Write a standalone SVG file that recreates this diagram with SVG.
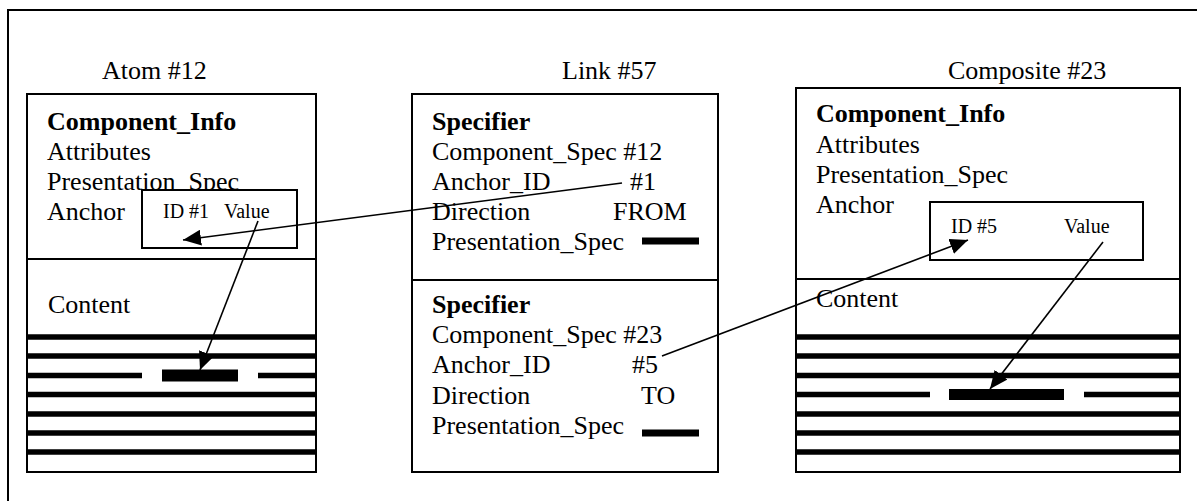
<svg xmlns="http://www.w3.org/2000/svg" width="1197" height="501" viewBox="0 0 1197 501">
  <style>
    .frame { fill: none; stroke: #000; stroke-width: 2; }
    .box { fill: #fff; stroke: #000; stroke-width: 2; }
    .div { stroke: #000; stroke-width: 2; }
    text { font-family: "Liberation Serif", Tinos, "Times New Roman", Times, "DejaVu Serif", serif; fill: #000; }
    .t { font-size: 26px; }
    .b { font-weight: bold; }
    .s { font-size: 20px; }
    .row { stroke: #000; stroke-width: 5.5; }
    .bar { fill: #000; }
    .conn { stroke: #000; stroke-width: 1.6; fill: none; }
  </style>
  <defs>
    <marker id="head" viewBox="0 0 18 16" refX="18" refY="8" markerWidth="18" markerHeight="16" markerUnits="userSpaceOnUse" orient="auto">
      <path d="M0,0 L18,8 L0,16 z" fill="#000"/>
    </marker>
  </defs>

  <rect width="1197" height="501" fill="#fff"/>
  <!-- outer frame (open to the right and bottom) -->
  <rect class="frame" x="8" y="10" width="1200" height="500"/>

  <!-- titles -->
  <g font-family="Liberation Serif, serif">
  <text class="t" x="102" y="79">Atom #12</text>
  <text class="t" x="562" y="79">Link #57</text>
  <text class="t" x="948" y="79">Composite #23</text>
  </g>

  <!-- Atom #12 -->
  <g id="atom12">
    <rect class="box" x="27" y="94" width="289" height="378"/>
    <line class="div" x1="27" y1="259" x2="316" y2="259"/>
    <text class="t b" x="47" y="130">Component_Info</text>
    <text class="t" x="47" y="160">Attributes</text>
    <text class="t" x="47" y="190">Presentation_Spec</text>
    <text class="t" x="47" y="220">Anchor</text>
    <rect class="box" x="142" y="190" width="155" height="58"/>
    <text class="s" x="163" y="218">ID #1</text>
    <text class="s" x="224" y="218">Value</text>
    <text class="t" x="48" y="313">Content</text>
    <g>
      <line class="row" x1="27" y1="337" x2="316" y2="337"/>
      <line class="row" x1="27" y1="356" x2="316" y2="356"/>
      <line class="row" x1="27" y1="375.5" x2="142" y2="375.5"/>
      <rect class="bar" x="162" y="369.5" width="76" height="12"/>
      <line class="row" x1="258" y1="375.5" x2="316" y2="375.5"/>
      <line class="row" x1="27" y1="394.5" x2="316" y2="394.5"/>
      <line class="row" x1="27" y1="414" x2="316" y2="414"/>
      <line class="row" x1="27" y1="433" x2="316" y2="433"/>
      <line class="row" x1="27" y1="452" x2="316" y2="452"/>
    </g>
  </g>

  <!-- Link #57 -->
  <g id="link57">
    <rect class="box" x="412" y="94" width="306" height="378"/>
    <line class="div" x1="412" y1="280" x2="718" y2="280"/>
    <text class="t b" x="432" y="130">Specifier</text>
    <text class="t" x="432" y="160">Component_Spec #12</text>
    <text class="t" x="432" y="190">Anchor_ID</text>
    <text class="t" x="630" y="190">#1</text>
    <text class="t" x="432" y="220">Direction</text>
    <text class="t" x="613" y="220">FROM</text>
    <text class="t" x="432" y="250">Presentation_Spec</text>
    <rect class="bar" x="642" y="237.5" width="57" height="7"/>
    <text class="t b" x="432" y="313">Specifier</text>
    <text class="t" x="432" y="343">Component_Spec #23</text>
    <text class="t" x="432" y="373">Anchor_ID</text>
    <text class="t" x="632" y="373">#5</text>
    <text class="t" x="432" y="404">Direction</text>
    <text class="t" x="641" y="404">TO</text>
    <text class="t" x="432" y="434">Presentation_Spec</text>
    <rect class="bar" x="642" y="429.5" width="57" height="7"/>
  </g>

  <!-- Composite #23 -->
  <g id="composite23">
    <rect class="box" x="796" y="88" width="384" height="384"/>
    <line class="div" x1="796" y1="279" x2="1180" y2="279"/>
    <text class="t b" x="816" y="122">Component_Info</text>
    <text class="t" x="816" y="153">Attributes</text>
    <text class="t" x="816" y="183">Presentation_Spec</text>
    <text class="t" x="816" y="213">Anchor</text>
    <rect class="box" x="930" y="202" width="213" height="58"/>
    <text class="s" x="951" y="233">ID #5</text>
    <text class="s" x="1064" y="233">Value</text>
    <text class="t" x="816" y="307">Content</text>
    <g>
      <line class="row" x1="796" y1="337" x2="1180" y2="337"/>
      <line class="row" x1="796" y1="356" x2="1180" y2="356"/>
      <line class="row" x1="796" y1="375.5" x2="1180" y2="375.5"/>
      <line class="row" x1="796" y1="394.5" x2="930" y2="394.5"/>
      <rect class="bar" x="949" y="389" width="115" height="11"/>
      <line class="row" x1="1084" y1="394.5" x2="1180" y2="394.5"/>
      <line class="row" x1="796" y1="414" x2="1180" y2="414"/>
      <line class="row" x1="796" y1="433" x2="1180" y2="433"/>
      <line class="row" x1="796" y1="452" x2="1180" y2="452"/>
    </g>
  </g>

  <!-- connectors -->
  <g id="connectors">
    <line class="conn" x1="622" y1="183" x2="183" y2="240" marker-end="url(#head)"/>
    <line class="conn" x1="258" y1="221" x2="200" y2="370" marker-end="url(#head)"/>
    <line class="conn" x1="662" y1="356" x2="968" y2="240" marker-end="url(#head)"/>
    <line class="conn" x1="1103" y1="242" x2="990" y2="389" marker-end="url(#head)"/>
  </g>
</svg>
